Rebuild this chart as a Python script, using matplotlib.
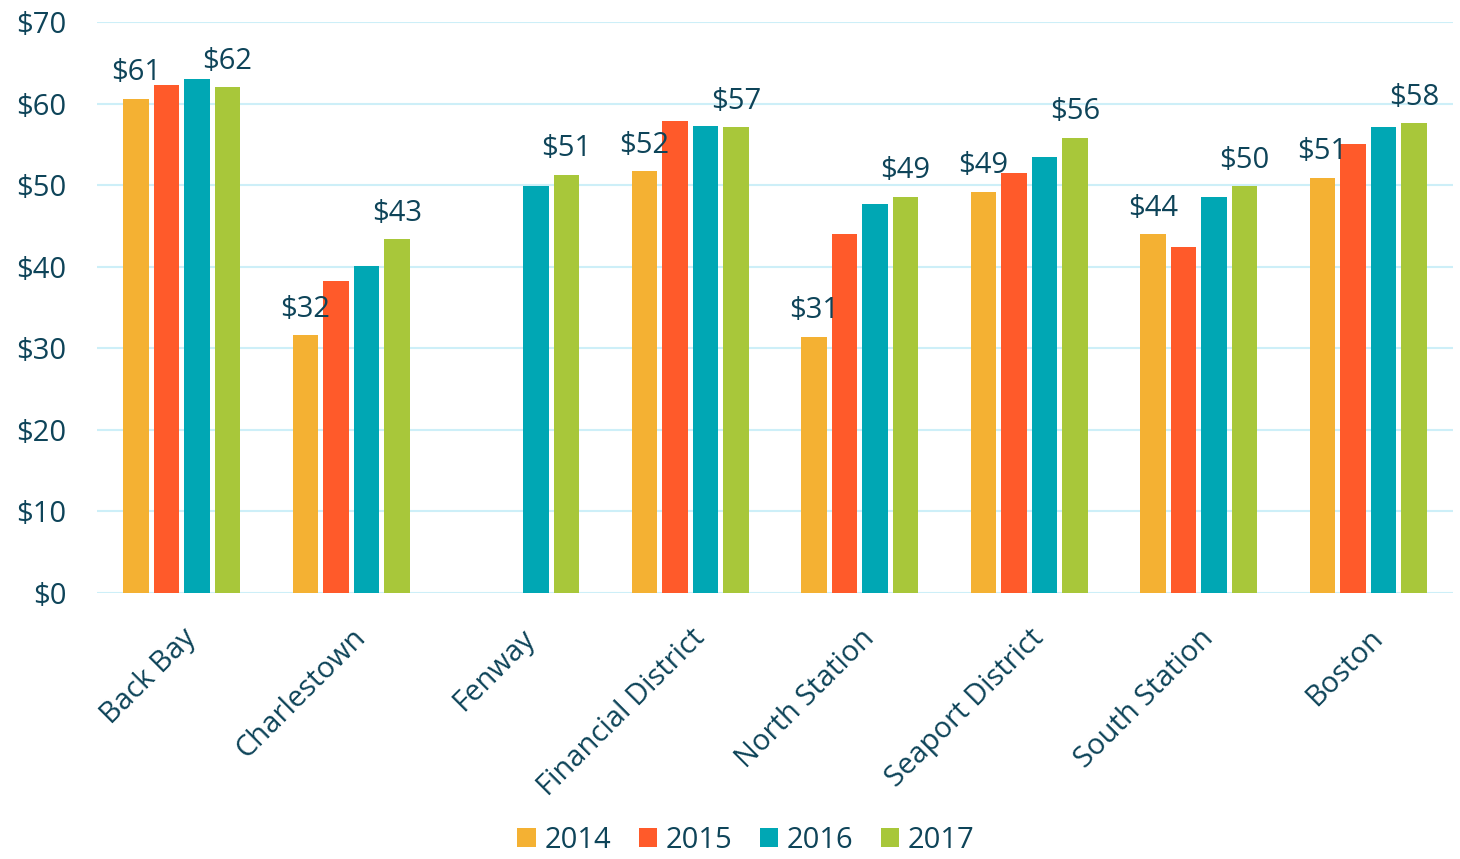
import matplotlib.pyplot as plt
import numpy as np

plt.rcParams["font.family"] = ["Open Sans", "DejaVu Sans"]

districts = ["Back Bay", "Charlestown", "Fenway", "Financial District",
             "North Station", "Seaport District", "South Station", "Boston"]
years = ["2014", "2015", "2016", "2017"]
rate_2014 = [60.6, 31.6, np.nan, 51.7, 31.4, 49.2, 44.0, 50.9]
rate_2015 = [62.3, 38.2, np.nan, 57.9, 44.0, 51.5, 42.4, 55.0]
rate_2016 = [63.0, 40.1, 49.9, 57.2, 47.7, 53.4, 48.6, 57.1]
rate_2017 = [62.0, 43.4, 51.3, 57.1, 48.6, 55.8, 49.9, 57.6]
series = [rate_2014, rate_2015, rate_2016, rate_2017]
colors = ["#F4B133", "#FF5A2A", "#00A7B4", "#A8C73A"]

text_color = "#0E4459"
grid_color = "#CDEFF8"
fs = 21

fig = plt.figure(figsize=(14.6, 8.59), dpi=100)
ax = fig.add_axes([97 / 1460, 1 - 593 / 859, (1453 - 97) / 1460, (593 - 22) / 859])

x = np.arange(len(districts))
step = 0.18
for i, (vals, col, yr) in enumerate(zip(series, colors, years)):
    pos = x + (i - 1.5) * step
    ax.bar(pos, vals, width=0.15, color=col, label=yr, zorder=3)

# value labels only on the 2014 and 2017 bars
for j in range(len(districts)):
    for i in (0, 3):
        v = series[i][j]
        if np.isnan(v):
            continue
        ax.text(x[j] + (i - 1.5) * step, v + 1.4, f"${round(v):.0f}",
                ha="center", va="bottom", fontsize=fs, color=text_color)

ax.set_xlim(-0.5, len(districts) - 0.5)
ax.set_ylim(0, 70)
ax.set_yticks(range(0, 71, 10))
ax.set_yticklabels([f"${v}" for v in range(0, 71, 10)])
ax.set_xticks(x)
ax.set_xticklabels(districts, rotation=45, ha="right", rotation_mode="anchor")
ax.tick_params(axis="both", length=0, labelsize=fs, labelcolor=text_color)
ax.tick_params(axis="x", pad=22)
ax.tick_params(axis="y", pad=22)
ax.grid(axis="y", color=grid_color, linewidth=1.5, zorder=0)
for s in ax.spines.values():
    s.set_visible(False)

fig.legend(loc="lower center", ncol=4, frameon=False, fontsize=fs,
           handlelength=0.62, handleheight=0.62, handletextpad=0.3,
           columnspacing=0.95, bbox_to_anchor=(0.511, -0.026), labelcolor=text_color)

fig.savefig("out.png", dpi=100)
